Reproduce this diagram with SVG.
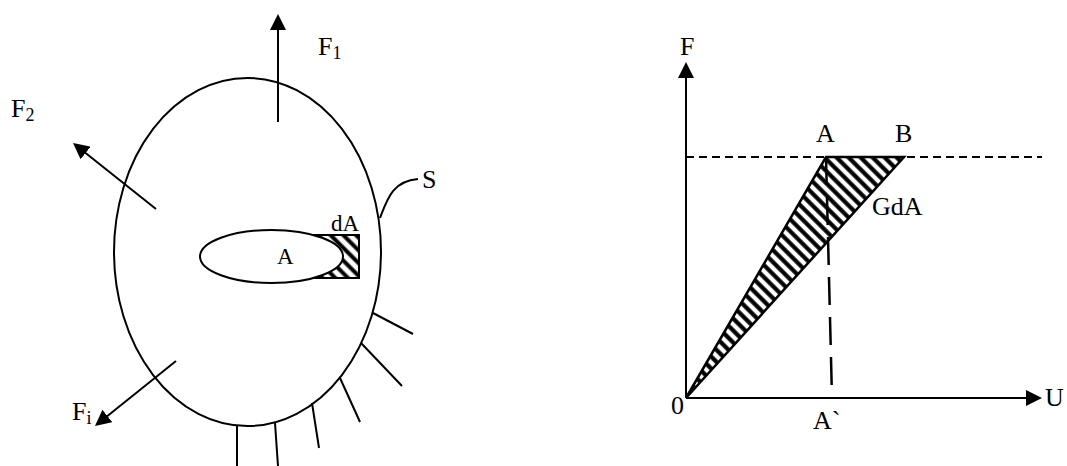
<svg xmlns="http://www.w3.org/2000/svg" width="1067" height="466" viewBox="0 0 1067 466">
<style>
.ln{fill:none;stroke:#000;stroke-width:2}
.t{font-family:"Liberation Serif","Times New Roman",serif;font-size:26px;fill:#000}
.sub{font-size:18px}
.dash{fill:none;stroke:#000;stroke-width:2;stroke-dasharray:8 5}
.dash2{fill:none;stroke:#000;stroke-width:2.5;stroke-dasharray:28 12}
</style>
<defs>
<marker id="arr" viewBox="0 0 16 16" refX="8" refY="8" markerWidth="16" markerHeight="16" markerUnits="userSpaceOnUse" orient="auto">
<path d="M0,0 L16,8 L0,16 z" fill="#000"/>
</marker>
<pattern id="hatch" width="8.5" height="8.5" patternUnits="userSpaceOnUse" patternTransform="rotate(-45)">
<line x1="4.25" y1="-1" x2="4.25" y2="9.5" stroke="#000" stroke-width="4.2"/>
</pattern>
<pattern id="hatch2" width="9" height="9" patternUnits="userSpaceOnUse" patternTransform="rotate(-45)">
<line x1="4.5" y1="-1" x2="4.5" y2="10" stroke="#000" stroke-width="4"/>
</pattern>
</defs>
<rect width="1067" height="466" fill="#fff"/>

<g id="body">
<ellipse cx="247.5" cy="252" rx="133.5" ry="174" class="ln"/>
</g>
<g id="dA">
<rect x="314" y="235" width="45" height="43" fill="url(#hatch2)" stroke="#000" stroke-width="2"/>
</g>
<g id="A-area">
<ellipse cx="271.5" cy="256.5" rx="71.5" ry="26.5" fill="#fff" stroke="#000" stroke-width="2"/>
</g>
<g id="supports">
<path class="ln" d="M373,313 L413,334 M361,343 L402,386 M340,378 L360,422 M312,403 L319,448 M275,423 L278,466 M237,426 L237,466"/>
</g>
<g id="S-leader">
<path class="ln" d="M380,218 C387,200 392,181 418,179"/>
</g>

<g id="axes">
<path class="ln" d="M686,398 L686,70" marker-end="url(#arr)"/>
<path class="ln" d="M686,398 L1034,398" marker-end="url(#arr)"/>
</g>
<g id="triangle">
<polygon points="686,398 826,157 904,157" fill="url(#hatch)" stroke="#000" stroke-width="2.5" stroke-linejoin="miter"/>
</g>
<g id="connectors">
<path class="ln" d="M278,122 L278,22" marker-end="url(#arr)"/>
<path class="ln" d="M156,209 L79.3,148" marker-end="url(#arr)"/>
<path class="ln" d="M176,361 L101.2,421" marker-end="url(#arr)"/>
<path class="dash" d="M686,157 L1042,157"/>
<path class="dash2" d="M826,157 L832,398"/>
</g>

<g id="labels">
<text class="t" x="318" y="55">F<tspan class="sub" dy="4">1</tspan></text>
<text class="t" x="11" y="117">F<tspan class="sub" dy="4">2</tspan></text>
<text class="t" x="72" y="420">F<tspan class="sub" dy="4">i</tspan></text>
<text class="t" x="422" y="188">S</text>
<text class="t" x="331" y="231" style="font-size:23px">dA</text>
<text class="t" x="277" y="264" style="font-size:23px">A</text>
<text class="t" x="680" y="55">F</text>
<text class="t" x="816" y="142">A</text>
<text class="t" x="895" y="142">B</text>
<text class="t" x="872" y="215">GdA</text>
<text class="t" x="671" y="414">0</text>
<text class="t" x="813" y="429">A`</text>
<text class="t" x="1045" y="406">U</text>
</g>
</svg>
